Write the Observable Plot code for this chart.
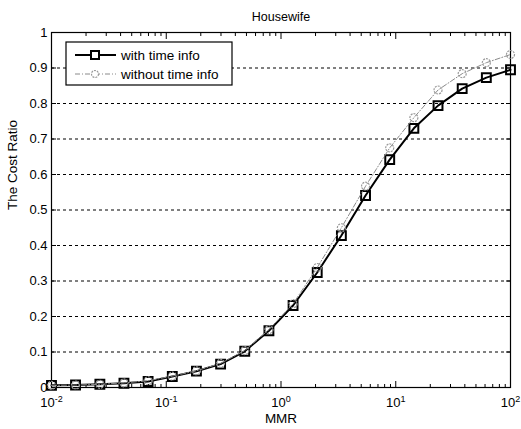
<!DOCTYPE html>
<html>
<head>
<meta charset="utf-8">
<script src="https://cdn.jsdelivr.net/npm/d3@7"></script>
<script src="https://cdn.jsdelivr.net/npm/@observablehq/plot@0.6"></script>
<style>
  html, body { margin: 0; padding: 0; background: #fff; }
  svg { font-family: "Liberation Sans", Arial, sans-serif; }
</style>
</head>
<body>
<div id="chart"></div>
<script>
const title = "Housewife";
const xLabel = "MMR";
const yLabel = "The Cost Ratio";
const seriesNames = ["with time info", "without time info"];
const mmr = [0.01, 0.0162, 0.0264, 0.0428, 0.0695, 0.1129, 0.1833, 0.2976, 0.4833, 0.7848,
             1.2743, 2.0691, 3.3598, 5.4556, 8.8587, 14.3845, 23.3572, 37.9269, 61.5848, 100];
const withTime = [0.006, 0.007, 0.009, 0.012, 0.017, 0.031, 0.046, 0.066, 0.102, 0.160,
                  0.231, 0.324, 0.428, 0.541, 0.642, 0.730, 0.794, 0.842, 0.873, 0.895];
const withoutTime = [0.006, 0.007, 0.009, 0.013, 0.019, 0.032, 0.047, 0.068, 0.104, 0.163,
                     0.236, 0.338, 0.450, 0.567, 0.675, 0.760, 0.838, 0.884, 0.915, 0.938];
const xTicks = [0.01, 0.1, 1, 10, 100];
const xTickLabels = ["-2", "-1", "0", "1", "2"];
const yTicks = [0, 0.1, 0.2, 0.3, 0.4, 0.5, 0.6, 0.7, 0.8, 0.9, 1];
const yTickLabels = ["0", "0.1", "0.2", "0.3", "0.4", "0.5", "0.6", "0.7", "0.8", "0.9", "1"];
const yGrid = [0.1, 0.2, 0.3, 0.4, 0.5, 0.6, 0.7, 0.8, 0.9];
const xMinor = [0.02, 0.03, 0.04, 0.05, 0.06, 0.07, 0.08, 0.09,
                0.2, 0.3, 0.4, 0.5, 0.6, 0.7, 0.8, 0.9,
                2, 3, 4, 5, 6, 7, 8, 9,
                20, 30, 40, 50, 60, 70, 80, 90];

const dataWith = mmr.map((x, i) => ({x, y: withTime[i]}));
const dataWithout = mmr.map((x, i) => ({x, y: withoutTime[i]}));

const tickOnly = {tickFormat: null, label: null, stroke: "#000", fill: "none"};

const plot = Plot.plot({
  width: 521,
  height: 429,
  marginTop: 32,
  marginBottom: 42,
  marginLeft: 51,
  marginRight: 11,
  style: {fontFamily: '"Liberation Sans", Arial, sans-serif', fontSize: "12px", background: "#fff", color: "#000"},
  x: {type: "log", domain: [0.01, 100]},
  y: {domain: [0, 1]},
  marks: [
    Plot.gridY(yGrid, {stroke: "#000", strokeOpacity: 1, strokeDasharray: "3,3", strokeWidth: 1}),
    Plot.axisX(xTicks, {anchor: "bottom", tickSize: 0, tickPadding: 10, tickFormat: (d) => "10^" + xTickLabels[xTicks.indexOf(d)], label: null, fontSize: 13}),
    Plot.axisX(xTicks, {anchor: "bottom", tickSize: -6, ...tickOnly}),
    Plot.axisX(xTicks, {anchor: "top", tickSize: -6, ...tickOnly}),
    Plot.axisX(xMinor, {anchor: "bottom", tickSize: -3, ...tickOnly}),
    Plot.axisX(xMinor, {anchor: "top", tickSize: -3, ...tickOnly}),
    Plot.axisY(yTicks, {anchor: "left", tickSize: 0, tickPadding: 4, tickFormat: (d) => yTickLabels[yTicks.indexOf(d)], label: null, fontSize: 13}),
    Plot.axisY(yTicks, {anchor: "left", tickSize: -5, ...tickOnly}),
    Plot.axisY(yTicks, {anchor: "right", tickSize: -5, ...tickOnly}),
    Plot.frame({stroke: "#000", strokeWidth: 1.2}),
    // series with time info
    Plot.line(dataWith, {x: "x", y: "y", stroke: "#000", strokeWidth: 2}),
    Plot.dot(dataWith, {x: "x", y: "y", symbol: "square", r: 5, stroke: "#000", strokeWidth: 2, fill: "none"}),
    // series without time info (drawn on top, as in MATLAB)
    Plot.line(dataWithout, {x: "x", y: "y", stroke: "#8a8a8a", strokeWidth: 1, strokeDasharray: "5,2,1,2"}),
    Plot.dot(dataWithout, {x: "x", y: "y", symbol: "circle", r: 4, stroke: "#9a9a9a", strokeWidth: 1.2, fill: "none", strokeDasharray: "2,1"}),
    // texts
    Plot.text([title], {frameAnchor: "top", dy: -20, fontSize: 12.5, fill: "#000"}),
    Plot.text([xLabel], {frameAnchor: "bottom", dy: 35, fontSize: 13.5, fill: "#000"}),
    Plot.text([yLabel], {frameAnchor: "left", dx: -39, rotate: -90, fontSize: 13.5, fill: "#000"})
  ]
});

document.getElementById("chart").appendChild(plot);

// superscript exponents on x tick labels
const svg = d3.select(plot);
svg.selectAll("text").each(function() {
  const t = this.textContent;
  if (/^10\^/.test(t)) {
    const exp = t.slice(3);
    const el = d3.select(this);
    const tspan = el.select("tspan");
    const target = tspan.empty() ? el : tspan;
    target.text("10");
    target.append("tspan").attr("dy", "-0.55em").attr("font-size", "9px").text(exp);
  }
});

// legend (MATLAB-style box)
const lg = svg.append("g").attr("font-size", "13.5px").attr("text-anchor", "start")
  .attr("font-family", '"Liberation Sans", Arial, sans-serif');
lg.append("rect").attr("x", 66).attr("y", 42).attr("width", 166).attr("height", 43)
  .attr("fill", "#fff").attr("stroke", "#000").attr("stroke-width", 1.2);
lg.append("line").attr("x1", 75).attr("x2", 116).attr("y1", 55).attr("y2", 55).attr("stroke", "#000").attr("stroke-width", 2);
lg.append("rect").attr("x", 91).attr("y", 51).attr("width", 8).attr("height", 8).attr("fill", "#fff").attr("stroke", "#000").attr("stroke-width", 2);
lg.append("text").attr("x", 121).attr("y", 60).attr("text-anchor", "start").text(seriesNames[0]);
lg.append("line").attr("x1", 75).attr("x2", 116).attr("y1", 74).attr("y2", 74).attr("stroke", "#8a8a8a").attr("stroke-width", 1).attr("stroke-dasharray", "5,2,1,2");
lg.append("circle").attr("cx", 95).attr("cy", 74).attr("r", 3.5).attr("fill", "#fff").attr("stroke", "#9a9a9a").attr("stroke-width", 1.2).attr("stroke-dasharray", "2,1");
lg.append("text").attr("x", 121).attr("y", 79).attr("text-anchor", "start").text(seriesNames[1]);
</script>
</body>
</html>
